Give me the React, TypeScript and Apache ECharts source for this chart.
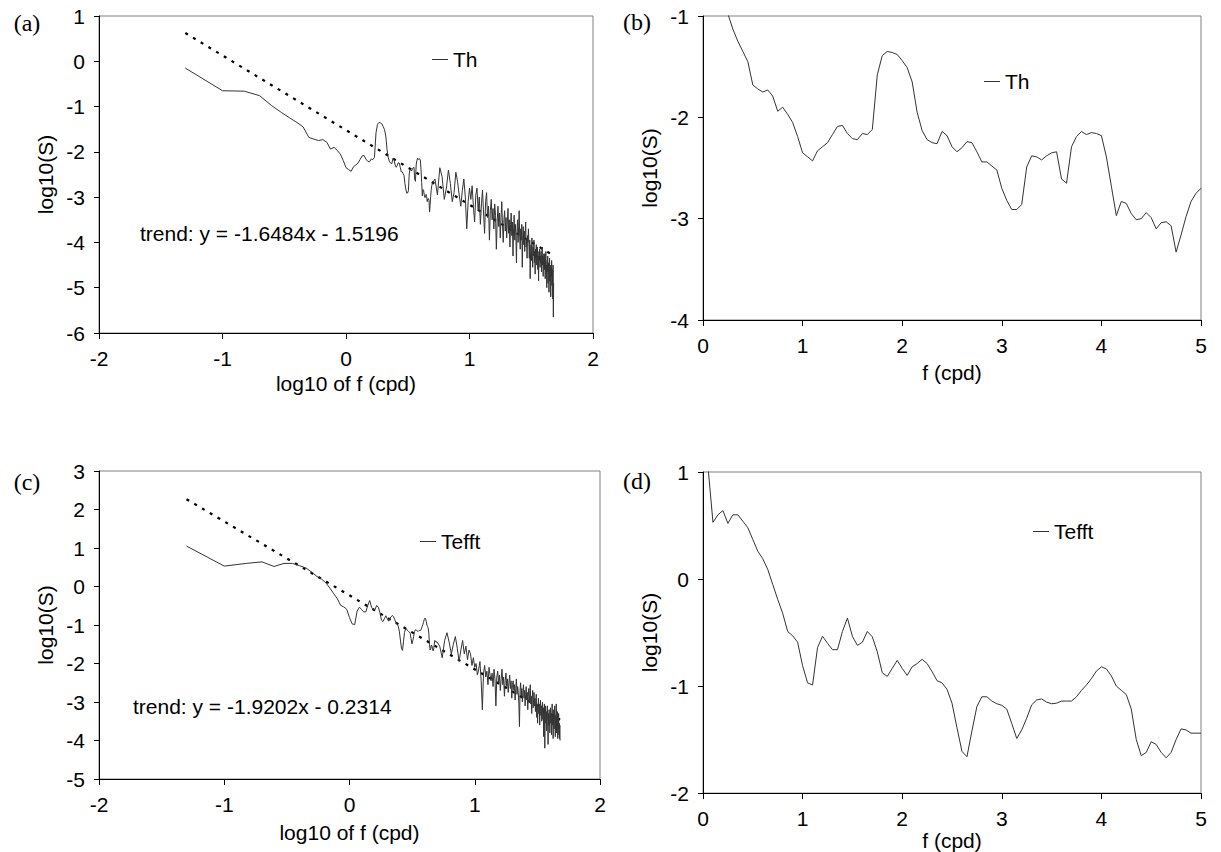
import React, { useEffect, useRef } from "react";
import * as echarts from "echarts";

// frequency grid (cpd): low part every 0.05 up to 5, high part every 0.25 up to 48
const F_STEP_LO = 0.05;
const F_STEP_HI = 0.25;
const F_SPLIT = 5;

// Th: log10(S) for f = 0.05 ... 5.00
const thLo = [
  -0.15, -0.65, -0.66, -0.76, -0.98, -1.13, -1.25, -1.35, -1.45, -1.68,
  -1.72, -1.75, -1.73, -1.79, -1.94, -1.90, -1.97, -2.05, -2.19, -2.35,
  -2.39, -2.43, -2.33, -2.29, -2.25, -2.17, -2.09, -2.08, -2.16, -2.21,
  -2.22, -2.16, -2.17, -2.12, -1.58, -1.39, -1.35, -1.36, -1.38, -1.44,
  -1.51, -1.65, -1.95, -2.13, -2.22, -2.25, -2.26, -2.14, -2.18, -2.29,
  -2.34, -2.30, -2.24, -2.25, -2.34, -2.44, -2.44, -2.48, -2.52, -2.70,
  -2.82, -2.91, -2.91, -2.86, -2.49, -2.38, -2.39, -2.42, -2.38, -2.35,
  -2.34, -2.61, -2.65, -2.29, -2.19, -2.14, -2.17, -2.15, -2.16, -2.18,
  -2.39, -2.68, -2.97, -2.83, -2.85, -2.95, -3.01, -3.00, -2.94, -2.99,
  -3.10, -3.04, -3.03, -3.07, -3.33, -3.16, -2.98, -2.83, -2.75, -2.70,
];

// Th: log10(S) for f = 5.25 ... 48.00
const thHi = [
  -2.60, -2.95, -2.35, -2.55, -3.05, -2.80, -2.40, -2.70, -3.10, -2.90,
  -2.45, -2.65, -2.95, -3.20, -2.85, -2.60, -3.00, -3.70, -3.10, -2.80,
  -3.05, -2.75, -3.20, -3.55, -2.95, -2.80, -3.30, -3.00, -3.60, -3.15,
  -2.85, -3.35, -3.80, -3.10, -2.90, -3.45, -3.20, -3.95, -3.30, -3.05,
  -3.50, -3.25, -3.70, -3.15, -3.40, -4.15, -3.55, -3.20, -3.65, -3.35,
  -3.90, -3.45, -3.10, -3.60, -4.00, -3.50, -3.30, -3.75, -3.45, -3.90,
  -3.55, -3.25, -3.80, -3.50, -4.10, -3.60, -3.35, -3.85, -3.55, -4.30,
  -3.70, -3.40, -3.95, -3.60, -3.85, -4.45, -3.75, -3.50, -4.00, -3.65,
  -3.30, -3.90, -4.15, -3.70, -3.95, -3.60, -4.55, -3.85, -3.65, -4.05,
  -3.75, -4.20, -3.80, -3.55, -4.10, -3.90, -4.35, -3.85, -4.00, -3.70,
  -4.00, -4.35, -3.95, -4.80, -4.20, -4.05, -4.40, -3.90, -4.25, -4.55,
  -4.10, -4.30, -3.95, -4.45, -4.20, -4.70, -4.15, -4.35, -4.05, -4.50,
  -4.25, -4.10, -4.60, -4.30, -4.85, -4.20, -4.40, -4.15, -4.55, -4.30,
  -4.45, -4.20, -4.65, -4.35, -4.10, -4.50, -4.30, -4.75, -4.40, -4.25,
  -4.35, -4.60, -4.25, -4.80, -4.45, -4.20, -4.70, -4.50, -5.00, -4.40,
  -4.65, -4.30, -4.90, -4.55, -4.45, -5.10, -4.60, -4.35, -4.85, -4.50,
  -4.70, -5.20, -4.55, -4.75, -4.40, -4.95, -4.60, -4.80, -5.25, -4.50,
  -5.65, -4.90,
];

// Tefft: log10(S) for f = 0.05 ... 5.00
const teLo = [
  1.05, 0.53, 0.60, 0.64, 0.52, 0.60, 0.60, 0.54, 0.48, 0.37,
  0.26, 0.19, 0.09, -0.05, -0.19, -0.32, -0.49, -0.53, -0.59, -0.81,
  -0.97, -0.99, -0.64, -0.535, -0.60, -0.66, -0.66, -0.49, -0.365, -0.535,
  -0.62, -0.59, -0.49, -0.54, -0.68, -0.875, -0.91, -0.835, -0.76, -0.835,
  -0.90, -0.82, -0.79, -0.75, -0.79, -0.865, -0.95, -0.97, -1.03, -1.16,
  -1.39, -1.61, -1.66, -1.42, -1.19, -1.10, -1.10, -1.14, -1.165, -1.18,
  -1.215, -1.35, -1.49, -1.41, -1.30, -1.175, -1.13, -1.12, -1.15, -1.165,
  -1.16, -1.14, -1.14, -1.14, -1.10, -1.04, -0.99, -0.93, -0.86, -0.82,
  -0.84, -0.905, -1.00, -1.04, -1.08, -1.215, -1.50, -1.65, -1.62, -1.52,
  -1.545, -1.62, -1.67, -1.62, -1.50, -1.40, -1.41, -1.44, -1.44, -1.44,
];

// Tefft: log10(S) for f = 5.25 ... 48.00
const teHi = [
  -1.55, -1.85, -1.40, -1.20, -1.45, -1.75, -1.50, -1.30, -1.60, -1.95,
  -1.65, -1.40, -1.75, -1.55, -1.90, -1.65, -1.75, -2.05, -1.85, -2.10,
  -2.00, -2.30, -2.15, -1.95, -2.45, -3.20, -2.25, -2.05, -2.35, -2.20,
  -2.55, -2.10, -2.30, -2.45, -2.25, -2.60, -2.15, -2.40, -3.10, -2.35,
  -2.20, -2.50, -2.30, -2.70, -2.40, -2.15, -2.55, -2.35, -2.85, -2.45,
  -2.25, -2.60, -2.40, -2.75, -2.50, -2.30, -2.65, -2.45, -2.90, -2.55,
  -2.45, -2.70, -2.55, -2.95, -2.65, -2.40, -2.80, -2.60, -2.75, -3.05,
  -3.64, -2.70, -2.50, -2.85, -2.65, -3.00, -2.75, -2.55, -2.90, -2.70,
  -3.10, -2.80, -2.60, -2.95, -2.75, -3.20, -2.85, -2.65, -3.00, -2.80,
  -2.55, -3.05, -2.85, -3.30, -2.90, -2.70, -3.15, -2.95, -2.75, -3.10,
  -2.90, -3.25, -3.00, -2.80, -3.40, -3.05, -3.55, -3.15, -2.90, -3.30,
  -3.05, -3.60, -3.20, -2.95, -3.35, -3.10, -3.50, -3.20, -3.00, -3.45,
  -3.15, -3.90, -3.25, -3.05, -4.20, -3.30, -3.10, -3.55, -3.25, -3.75,
  -3.35, -3.10, -3.50, -4.10, -3.30, -3.60, -3.20, -3.45, -3.80, -3.35,
  -3.15, -3.55, -3.30, -3.85, -3.40, -3.05, -3.60, -3.35, -3.95, -3.45,
  -3.20, -3.70, -3.40, -3.10, -3.65, -3.90, -3.35, -3.55, -3.05, -3.80,
  -3.45, -3.65, -3.25, -3.95, -3.50, -3.70, -3.30, -3.85, -3.55, -3.95,
  -3.60, -4.00,
];

// fitted trend lines (from the chart annotations)
const trendTh = { slope: -1.6484, intercept: -1.5196 };
const trendTe = { slope: -1.9202, intercept: -0.2314 };
const trendRange = [0.05, 48];

const logTicks = ["-2", "-1", "0", "1", "2"];

const FONT = '"Liberation Sans", Arial, sans-serif';
const SERIF = '"Liberation Serif", "Times New Roman", serif';
const LINE = "#333333";

const loPairs = (vals: number[]) =>
  vals.map((v, i) => [+((i + 1) * F_STEP_LO).toFixed(2), v]);
const hiPairs = (vals: number[]) =>
  vals.map((v, i) => [+(F_SPLIT + (i + 1) * F_STEP_HI).toFixed(2), v]);
const trendPairs = (t: { slope: number; intercept: number }) =>
  trendRange.map((f) => [f, t.slope * Math.log10(f) + t.intercept]);

export default function App() {
  const ref = useRef<HTMLDivElement>(null);

  useEffect(() => {
    if (!ref.current) return;
    const chart = echarts.init(ref.current, undefined, { renderer: "svg" });

    const grids = [
      { left: 99, top: 16, width: 494, height: 317 },
      { left: 703, top: 16, width: 498, height: 304 },
      { left: 99, top: 471, width: 501, height: 308 },
      { left: 703, top: 472, width: 498, height: 343 },
    ].map((g) => ({
      ...g,
      show: true,
      borderColor: "#808080",
      borderWidth: 1,
      backgroundColor: "transparent",
      containLabel: false,
    }));

    const axisCommon = {
      axisLine: { show: true, onZero: false, lineStyle: { color: "#000", width: 1 } },
      axisTick: { show: true, inside: false, length: 6, lineStyle: { color: "#000" } },
      splitLine: { show: false },
      nameTextStyle: { fontFamily: FONT, fontSize: 21, color: "#000" },
    };
    const labelStyle = { fontFamily: FONT, fontSize: 21, color: "#000" };

    const logX = (gridIndex: number, nameGap: number) => ({
      ...axisCommon,
      type: "log",
      logBase: 10,
      min: 0.01,
      max: 100,
      gridIndex,
      axisLabel: {
        ...labelStyle,
        margin: 15,
        formatter: (v: number) => logTicks[Math.round(Math.log10(v)) + 2],
      },
      name: "log10 of f (cpd)",
      nameLocation: "middle",
      nameGap,
    });
    const linX = (gridIndex: number, nameGap: number) => ({
      ...axisCommon,
      type: "value",
      min: 0,
      max: 5,
      interval: 1,
      gridIndex,
      axisLabel: { ...labelStyle, margin: 15 },
      name: "f (cpd)",
      nameLocation: "middle",
      nameGap,
    });
    const yAx = (gridIndex: number, min: number, max: number) => ({
      ...axisCommon,
      type: "value",
      min,
      max,
      interval: 1,
      gridIndex,
      axisTick: { ...axisCommon.axisTick, length: 5 },
      axisLabel: { ...labelStyle, margin: 14 },
      name: "log10(S)",
      nameLocation: "middle",
      nameRotate: 90,
      nameGap: 43,
    });

    const dataLine = (name: string, idx: number, data: number[][]) => ({
      name,
      type: "line",
      xAxisIndex: idx,
      yAxisIndex: idx,
      data,
      symbol: "none",
      showSymbol: false,
      clip: true,
      lineStyle: { color: LINE, width: 1 },
      itemStyle: { color: LINE },
      z: 3,
    });
    const trendLine = (idx: number, t: { slope: number; intercept: number }) => ({
      name: "trend" + idx,
      type: "line",
      xAxisIndex: idx,
      yAxisIndex: idx,
      data: trendPairs(t),
      symbol: "none",
      showSymbol: false,
      lineStyle: { color: "#000", width: 2.2, type: [3, 6] },
      z: 2,
    });

    const legend = (name: string, left: number, top: number) => ({
      data: [name],
      left,
      top,
      icon: "rect",
      itemWidth: 16,
      itemHeight: 1,
      selectedMode: false,
      textStyle: { fontFamily: FONT, fontSize: 21, color: "#000" },
    });

    const panelLabel = (text: string, x: number, y: number) => ({
      type: "text",
      x,
      y,
      style: {
        text,
        font: `24px ${SERIF}`,
        fill: "#000",
        textAlign: "center",
        textVerticalAlign: "middle",
      },
    });
    const note = (text: string, x: number, y: number) => ({
      type: "text",
      x,
      y,
      style: {
        text,
        font: `21px ${FONT}`,
        fill: "#000",
        textAlign: "left",
        textVerticalAlign: "middle",
      },
    });

    chart.setOption({
      animation: false,
      backgroundColor: "#fff",
      grid: grids,
      xAxis: [logX(0, 40), linX(1, 42), logX(2, 43), linX(3, 2)],
      yAxis: [yAx(0, -6, 1), yAx(1, -4, -1), yAx(2, -5, 3), yAx(3, -2, 1)],
      legend: [
        legend("Th", 427, 44),
        legend("Th", 979, 66),
        legend("Tefft", 415, 526),
        legend("Tefft", 1028, 516),
      ],
      series: [
        trendLine(0, trendTh),
        dataLine("Th", 0, [...loPairs(thLo), ...hiPairs(thHi)]),
        dataLine("Th", 1, loPairs(thLo)),
        trendLine(2, trendTe),
        dataLine("Tefft", 2, [...loPairs(teLo), ...hiPairs(teHi)]),
        dataLine("Tefft", 3, loPairs(teLo)),
      ],
      graphic: [
        panelLabel("(a)", 27, 23),
        panelLabel("(b)", 637, 22),
        panelLabel("(c)", 27, 482),
        panelLabel("(d)", 637, 481),
        note("trend: y = -1.6484x - 1.5196", 140, 233),
        note("trend: y = -1.9202x - 0.2314", 133, 706),
      ],
    });

    return () => chart.dispose();
  }, []);

  return (
    <div
      ref={ref}
      style={{ position: "absolute", left: 0, top: 0, width: 1221, height: 852 }}
    />
  );
}
